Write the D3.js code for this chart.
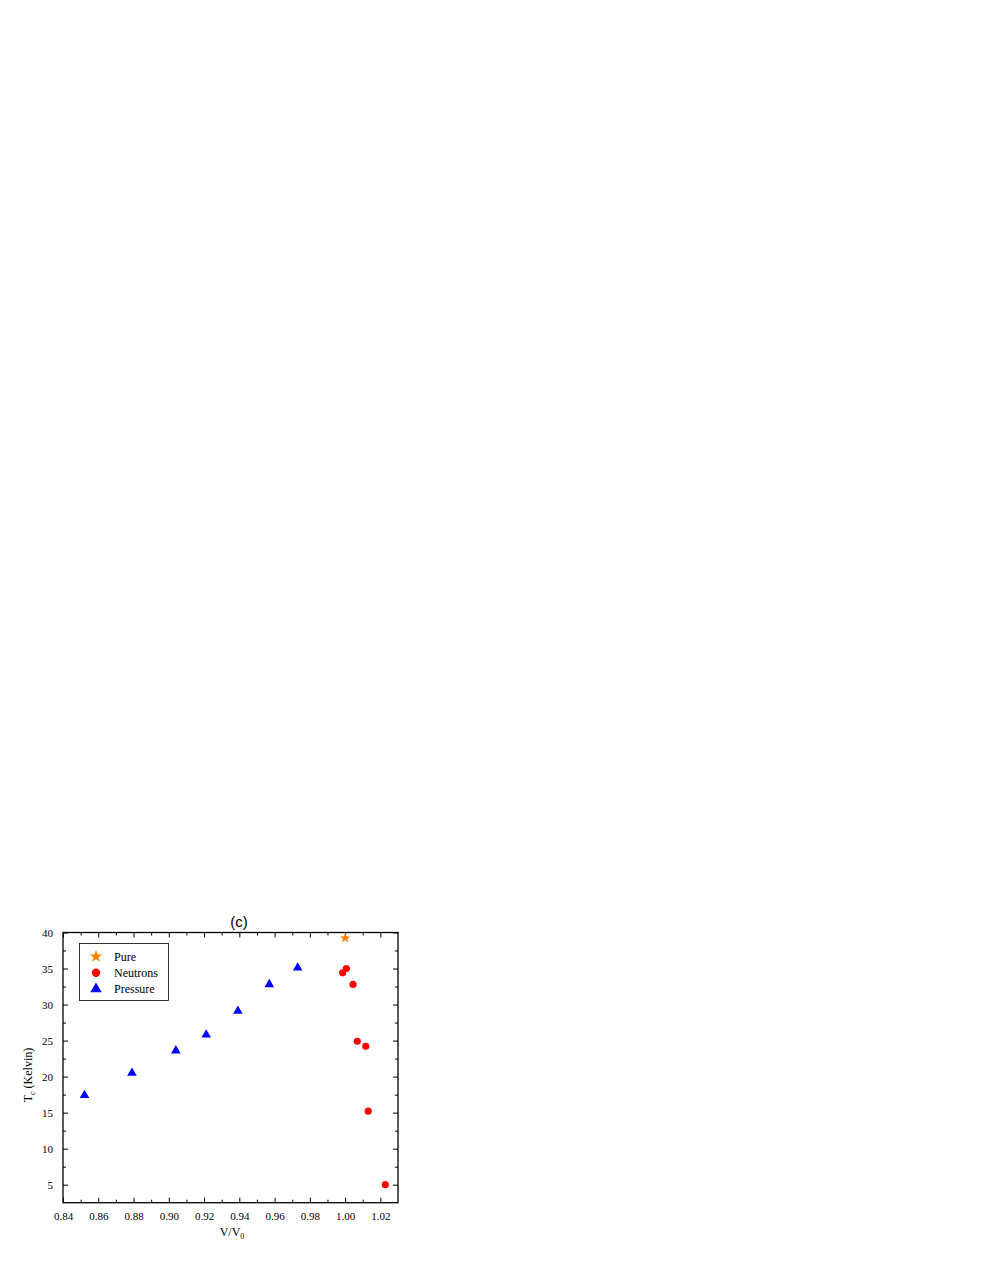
<!DOCTYPE html>
<html>
<head>
<meta charset="utf-8">
<script src="https://cdn.jsdelivr.net/npm/d3@7"></script>
<style>
  body { margin: 0; background: #fff; }
  svg { display: block; }
</style>
</head>
<body>
<div id="chart"></div>
<script>
// data
let pureX = [1.000];
let pureY = [39.2];
let neutronX = [0.9986, 1.0007, 1.0045, 1.0069, 1.0117, 1.0131, 1.0228];
let neutronY = [34.4, 35.0, 32.8, 24.9, 24.2, 15.2, 5.0];
let pressureX = [0.8522, 0.8791, 0.9040, 0.9212, 0.9392, 0.9570, 0.9731];
let pressureY = [17.4, 20.5, 23.6, 25.8, 29.1, 32.8, 35.1];
let xTicks = [0.84, 0.86, 0.88, 0.90, 0.92, 0.94, 0.96, 0.98, 1.00, 1.02];
let yTicks = [5, 10, 15, 20, 25, 30, 35, 40];
let legendNames = ["Pure", "Neutrons", "Pressure"];

let w = 981;
let h = 1269;
let padL = 63, padR = 398, padT = 932.5, padB = 1202.7;

let svg = d3.select("#chart")
    .append("svg")
    .attr("width", w)
    .attr("height", h);

let xScale = d3.scaleLinear()
    .domain([0.84, 1.03])
    .range([padL, padR]);
let yScale = d3.scaleLinear()
    .domain([2.5, 40])
    .range([padB, padT]);

let serif = "'Liberation Serif', 'Times New Roman', serif";

// minor ticks every 0.01 / 2.5
let xMinor = d3.range(0, 10).map(function (i) { return 0.85 + i * 0.02; }).filter(function (v) { return v < 1.03; });
let yMinor = d3.range(0, 8).map(function (i) { return 2.5 + i * 5; }).filter(function (v) { return v > 2.6 && v < 40; });

function axisStyle(g) {
    g.select(".domain").remove();
    g.selectAll("line").attr("stroke", "#000").attr("stroke-width", 1);
    g.selectAll("text").attr("font-family", serif).attr("font-size", 11).attr("fill", "#000");
}

// bottom axis
svg.append("g")
    .attr("transform", "translate(0," + padB + ")")
    .call(d3.axisBottom(xScale).tickValues(xTicks).tickFormat(d3.format(".2f")).tickSizeInner(-5).tickSizeOuter(0).tickPadding(10))
    .call(axisStyle);
svg.append("g")
    .attr("transform", "translate(0," + padB + ")")
    .call(d3.axisBottom(xScale).tickValues(xMinor).tickFormat("").tickSizeInner(-3).tickSizeOuter(0))
    .call(axisStyle);
// top axis
svg.append("g")
    .attr("transform", "translate(0," + padT + ")")
    .call(d3.axisTop(xScale).tickValues(xTicks).tickFormat("").tickSizeInner(-5).tickSizeOuter(0))
    .call(axisStyle);
svg.append("g")
    .attr("transform", "translate(0," + padT + ")")
    .call(d3.axisTop(xScale).tickValues(xMinor).tickFormat("").tickSizeInner(-3).tickSizeOuter(0))
    .call(axisStyle);
// left axis
svg.append("g")
    .attr("transform", "translate(" + padL + ",0)")
    .call(d3.axisLeft(yScale).tickValues(yTicks).tickSizeInner(-5).tickSizeOuter(0).tickPadding(10))
    .call(axisStyle);
svg.append("g")
    .attr("transform", "translate(" + padL + ",0)")
    .call(d3.axisLeft(yScale).tickValues(yMinor).tickFormat("").tickSizeInner(-3).tickSizeOuter(0))
    .call(axisStyle);
// right axis
svg.append("g")
    .attr("transform", "translate(" + padR + ",0)")
    .call(d3.axisRight(yScale).tickValues(yTicks).tickFormat("").tickSizeInner(-5).tickSizeOuter(0))
    .call(axisStyle);
svg.append("g")
    .attr("transform", "translate(" + padR + ",0)")
    .call(d3.axisRight(yScale).tickValues(yMinor).tickFormat("").tickSizeInner(-3).tickSizeOuter(0))
    .call(axisStyle);

// frame
svg.append("rect")
    .attr("x", padL)
    .attr("y", padT)
    .attr("width", padR - padL)
    .attr("height", padB - padT)
    .attr("fill", "none")
    .attr("stroke", "#000")
    .attr("stroke-width", 1.3);

// title
svg.append("text")
    .attr("x", 239)
    .attr("y", 927)
    .attr("text-anchor", "middle")
    .attr("font-family", "'Liberation Sans', Arial, sans-serif")
    .attr("font-size", 15)
    .text("(c)");

// axis labels
let xl = svg.append("text")
    .attr("x", 232)
    .attr("y", 1236)
    .attr("text-anchor", "middle")
    .attr("font-family", serif)
    .attr("font-size", 12);
xl.append("tspan").text("V/V");
xl.append("tspan").attr("font-size", 8).attr("dy", 3).text("0");

let yl = svg.append("text")
    .attr("transform", "translate(32,1075) rotate(-90)")
    .attr("text-anchor", "middle")
    .attr("font-family", serif)
    .attr("font-size", 12);
yl.append("tspan").text("T");
yl.append("tspan").attr("font-size", 8).attr("dy", 3).text("c");
yl.append("tspan").attr("dy", -3).text(" (Kelvin)");

// markers
let star = d3.symbol().type(d3.symbolStar).size(34);
let circ = d3.symbol().type(d3.symbolCircle).size(40);
let tri = d3.symbol().type(d3.symbolTriangle).size(40);

svg.append("g").selectAll("path")
    .data(pressureX)
    .enter().append("path")
    .attr("transform", function (d, i) { return "translate(" + xScale(d) + "," + yScale(pressureY[i]) + ")"; })
    .attr("d", tri)
    .attr("fill", "#0000ff");

svg.append("g").selectAll("path")
    .data(neutronX)
    .enter().append("path")
    .attr("transform", function (d, i) { return "translate(" + xScale(d) + "," + yScale(neutronY[i]) + ")"; })
    .attr("d", circ)
    .attr("fill", "#ff0000");

svg.append("g").selectAll("path")
    .data(pureX)
    .enter().append("path")
    .attr("transform", function (d, i) { return "translate(" + xScale(d) + "," + yScale(pureY[i]) + ")"; })
    .attr("d", star)
    .attr("fill", "#ff8000");

// legend
svg.append("rect")
    .attr("x", 79.5)
    .attr("y", 943.5)
    .attr("width", 89)
    .attr("height", 57)
    .attr("fill", "#fff")
    .attr("stroke", "#000")
    .attr("stroke-width", 0.8);

let legendSym = [d3.symbol().type(d3.symbolStar).size(50), d3.symbol().type(d3.symbolCircle).size(55), d3.symbol().type(d3.symbolTriangle).size(55)];
let legendCol = ["#ff8000", "#ff0000", "#0000ff"];
legendNames.forEach(function (name, i) {
    let yy = 956.5 + i * 16.3;
    svg.append("path")
        .attr("transform", "translate(96," + yy + ")")
        .attr("d", legendSym[i])
        .attr("fill", legendCol[i]);
    svg.append("text")
        .attr("x", 114)
        .attr("y", yy + 4)
        .attr("font-family", serif)
        .attr("font-size", 12)
        .text(name);
});
</script>
</body>
</html>
